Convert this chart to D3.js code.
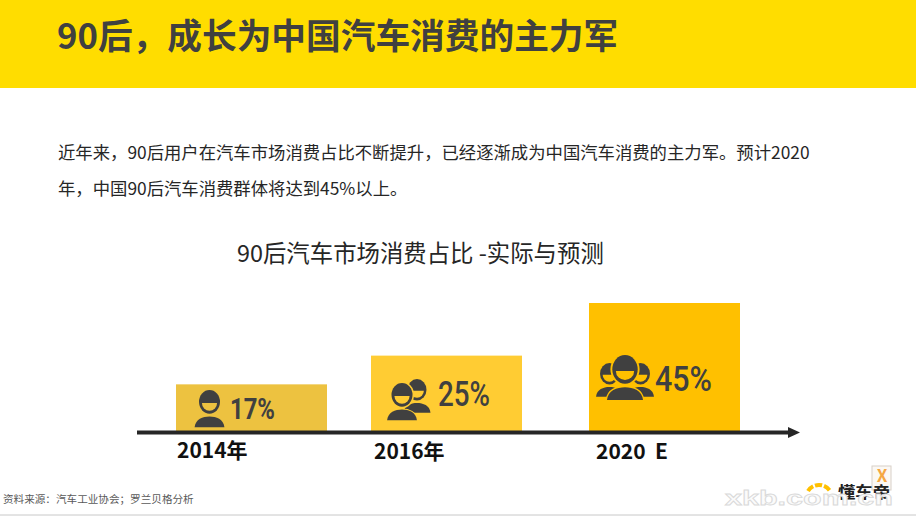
<!DOCTYPE html>
<html><head><meta charset="utf-8">
<script src="https://cdn.jsdelivr.net/npm/d3@7"></script>
<style>html,body{margin:0;padding:0;background:#fff}svg{display:block}
text{font-family:"Noto Sans CJK SC",sans-serif}</style></head>
<body><svg id="c" width="916" height="516"></svg>
<script>
const categories = ["2014年","2016年","2020 E"];
const barValues = [16.4,26.5,45];
const valueLabels = ["17%","25%","45%"];
const barColors = ["#EDC240","#FFCC33","#FFC000"];
const headline = "90后，成长为中国汽车消费的主力军";
const bodyLines = ["近年来，90后用户在汽车市场消费占比不断提升，已经逐渐成为中国汽车消费的主力军。预计2020","年，中国90后汽车消费群体将达到45%以上。"];
const chartTitle = "90后汽车市场消费占比 -实际与预测";
const sourceNote = "资料来源：汽车工业协会；罗兰贝格分析";

const W=916,H=516,base=431,barW=151;
const svg=d3.select("#c");
const x=d3.scaleOrdinal().domain(categories).range([176,371,589]);
const y=d3.scaleLinear().domain([0,45]).range([base,303]);

svg.append("rect").attr("width",W).attr("height",88).attr("fill","#FFDD00");
svg.append("text").attr("x",57).attr("y",49).attr("font-size",34.7).attr("font-weight",700).attr("fill","#404040").text(headline);
svg.selectAll(".b").data(bodyLines).join("text").attr("x",58).attr("y",(d,i)=>159+i*36).attr("font-size",17.35).attr("fill","#262626").text(d=>d);
svg.append("text").attr("x",237).attr("y",262).attr("font-size",23.4).attr("fill","#262626").text(chartTitle);

svg.selectAll(".bar").data(categories).join("rect").attr("x",d=>x(d)).attr("width",barW)
  .attr("y",(d,i)=>y(barValues[i])).attr("height",(d,i)=>base-y(barValues[i])).attr("fill",(d,i)=>barColors[i]);

svg.append("path").attr("d",d3.line()([[137,432.5],[788,432.5]])).attr("stroke","#262626").attr("stroke-width",4).attr("fill","none");
svg.append("path").attr("d","M788,427L800,432.5L788,438Z").attr("fill","#262626");

svg.selectAll(".cat").data(categories).join("text").attr("x",(d,i)=>[177,374,596][i]).attr("y",(d,i)=>[458,459,459][i])
  .attr("font-size",21).attr("font-weight",700).attr("fill","#111").attr("xml:space","preserve").text((d,i)=>i==2?"2020  E":d);

const lx=[230,438,655],ly=[419,406,391],ls=[29,35,35],lw=[45,52,57],lwt=[700,500,500];
svg.selectAll(".val").data(valueLabels).join("text").attr("x",(d,i)=>lx[i]).attr("y",(d,i)=>ly[i])
  .style("font-family","Roboto").attr("font-weight",(d,i)=>lwt[i]).attr("font-size",(d,i)=>ls[i]).attr("fill","#404040")
  .attr("textLength",(d,i)=>lw[i]).attr("lengthAdjust","spacingAndGlyphs").text(d=>d);

function person(cx,top,r,fill,bg){
  const ry=r*1.13;
  const g=svg.append("g").attr("transform",`translate(${cx},${top+ry})`);
  const bt=r*1.4, w=r*1.42, bb=r*2.42;
  g.append("path").attr("d",`M${-w},${bb}C${-w*0.95},${bt+r*0.25} ${-w*0.45},${bt} 0,${bt}C${w*0.45},${bt} ${w*0.95},${bt+r*0.25} ${w},${bb}Z`)
    .attr("fill",fill).attr("stroke",bg).attr("stroke-width",r*0.2).style("paint-order","stroke");
  g.append("ellipse").attr("rx",r).attr("ry",ry).attr("fill",fill).attr("stroke",bg).attr("stroke-width",r*0.3).style("paint-order","stroke");
  const v=r*0.72;
  g.append("path").attr("d",`M${-v},${r*0.12}H${v}A${v},${v} 0 0 1 ${-v},${r*0.12}Z`).attr("fill",bg);
}
person(209.5,390,10.5,"#404040",barColors[0]);
person(417,379,9.5,"#404040",barColors[1]);
person(402,383,10.5,"#404040",barColors[1]);
person(609.5,363,9.5,"#404040",barColors[2]);
person(640.5,363,9.5,"#404040",barColors[2]);
person(625,355,12.7,"#404040",barColors[2]);

svg.append("text").attr("x",3).attr("y",503).attr("font-size",10.6).attr("fill","#595959").text(sourceNote);
svg.append("line").attr("x1",0).attr("x2",W).attr("y1",515).attr("y2",515).attr("stroke","#c8c8c8").attr("stroke-width",1);

// logo and watermark
svg.append("rect").attr("x",872).attr("y",466).attr("width",19).attr("height",24).attr("fill","#fbf8f4").attr("stroke","#d8d0c8");
svg.append("text").attr("x",882).attr("y",482).attr("text-anchor","middle").attr("font-size",17).attr("font-weight",700).attr("fill","#F5A742").text("X");
svg.append("path").attr("d","M808,491A13,13 0 0 1 830,491").attr("fill","none").attr("stroke","#FFC000").attr("stroke-width",4).attr("stroke-dasharray","7 2");
svg.append("text").attr("x",838).attr("y",498).attr("font-size",16).attr("font-weight",700).attr("fill","#222").attr("textLength",52).attr("lengthAdjust","spacingAndGlyphs").text("懂车帝");
svg.append("text").attr("x",725).attr("y",505).style("font-family","'Liberation Sans'").attr("font-weight",700).attr("font-size",21)
  .attr("fill","#fbfbfb").attr("stroke","#d9d9d9").attr("stroke-width",0.8).attr("textLength",168).attr("lengthAdjust","spacingAndGlyphs").text("xkb.com.cn");
</script></body></html>
